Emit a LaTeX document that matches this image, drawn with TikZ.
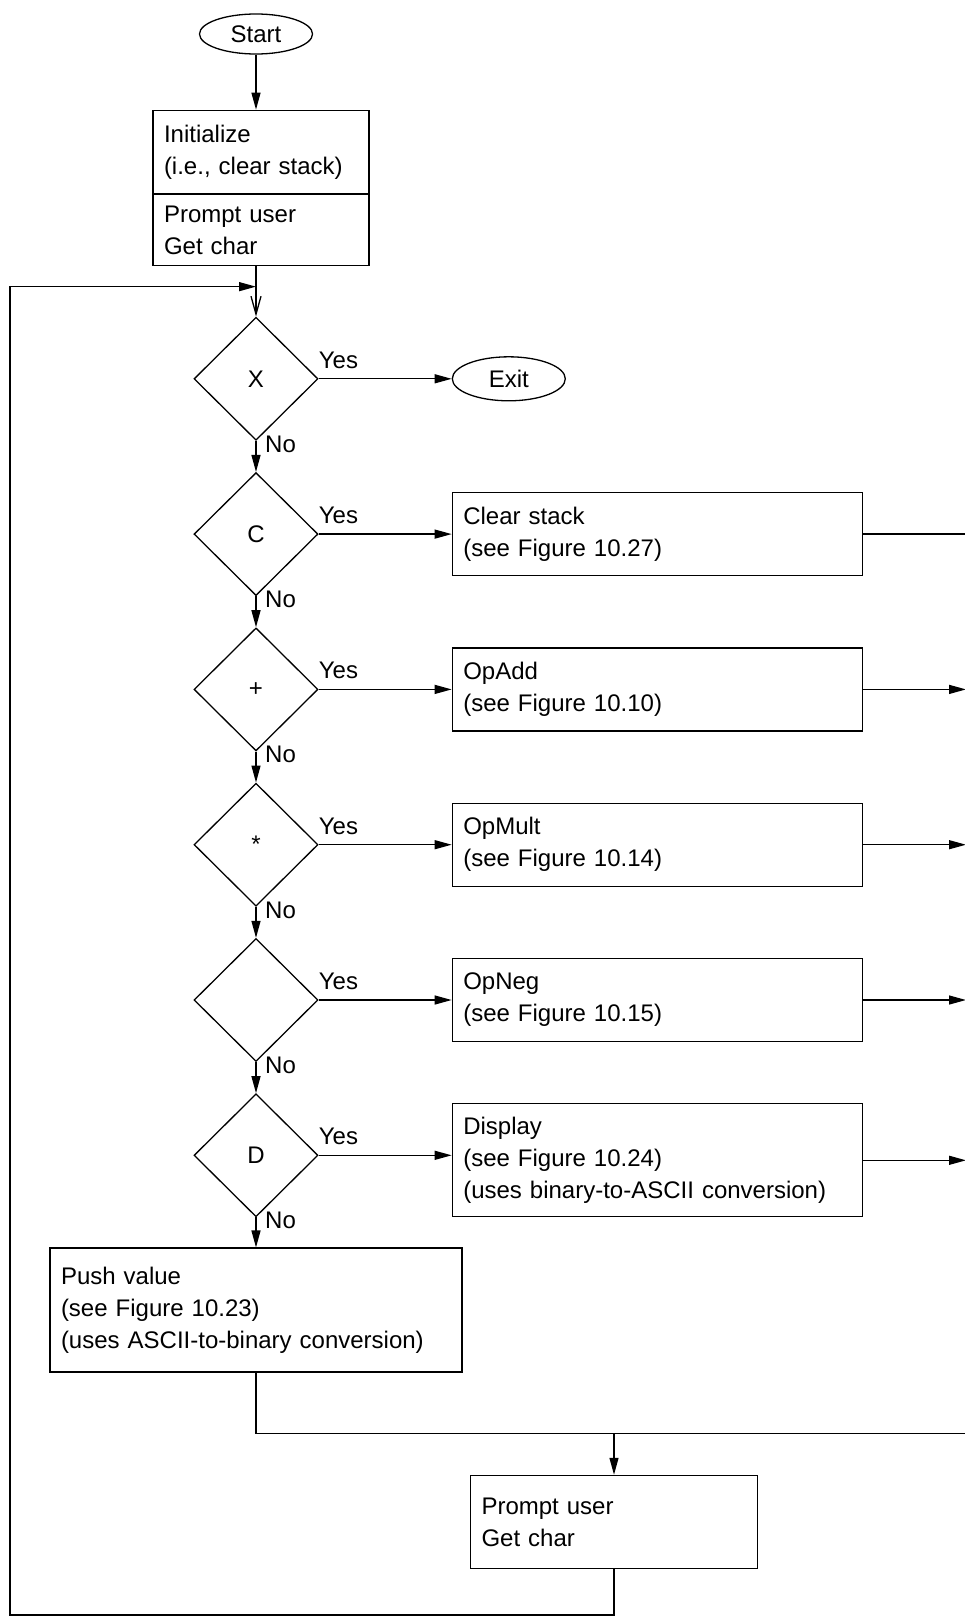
\documentclass[tikz,border=0pt]{standalone}
\usepackage{fontspec}
\setmainfont{Liberation Sans}
\usetikzlibrary{arrows.meta, positioning, shapes.geometric}
\tikzset{boite/.style={rectangle, draw, line width=1.3pt,
  align=left, inner xsep=11pt, inner ysep=0pt}}
\tikzset{test/.style={diamond, draw, line width=1.3pt,
  minimum width=124pt, minimum height=123pt, inner sep=0pt}}
\tikzset{borne/.style={ellipse, draw, line width=1.3pt,
  minimum width=113pt, minimum height=40pt, inner sep=0pt}}
\tikzset{oui/.style={inner sep=0pt}}
\tikzset{non/.style={inner sep=0pt}}
\tikzset{trait/.style={line width=1.3pt}}
\tikzset{fl/.style={trait, -{Triangle[length=17pt, width=9pt]}}}

\begin{document}
\begin{tikzpicture}[node distance=31pt, font=\fontsize{24}{32}\selectfont]
\useasboundingbox (0,0) rectangle (964pt,-1619pt);
\node[borne] (deb) at (256pt,-34pt) {Start};
\node[boite, text width=194pt, minimum height=83pt, below=55pt of deb, xshift=5pt] (init) {Initialize\\(i.e., clear stack)};
\node[boite, text width=194pt, minimum height=71pt, below=0pt of init] (lire) {Prompt user\\Get char};
\node[test, below=262pt of deb] (tx) {X};
\node[test, below=of tx] (tc) {C};
\node[test, below=of tc] (tplus) {+};
\node[test, below=of tplus] (tmul) {*};
\node[test, below=of tmul] (tneg) {};
\node[test, below=of tneg] (td) {D};
\node[borne, minimum height=44pt, right=133pt of tx] (fin) {Exit};
\node[boite, text width=388pt, minimum height=83pt, right=133pt of tc] (vider) {Clear stack\\(see Figure 10.27)};
\node[boite, text width=388pt, minimum height=83pt, right=133pt of tplus] (add) {OpAdd\\(see Figure 10.10)};
\node[boite, text width=388pt, minimum height=83pt, right=133pt of tmul] (mult) {OpMult\\(see Figure 10.14)};
\node[boite, text width=388pt, minimum height=83pt, right=133pt of tneg] (neg) {OpNeg\\(see Figure 10.15)};
\node[boite, text width=388pt, minimum height=113pt, right=133pt of td, yshift=-5pt] (aff) {Display\\(see Figure 10.24)\\(uses binary-to-ASCII conversion)};
\node[boite, text width=390pt, minimum height=124pt, below=30pt of td] (empil) {Push value\\(see Figure 10.23)\\(uses ASCII-to-binary conversion)};
\node[boite, text width=265pt, minimum height=93pt, below=102pt of empil, xshift=358pt] (lire2) {Prompt user\\Get char};
\node[oui, above right=10pt and 0pt of tx.east] (ouix) {Yes};
\node[oui, above right=10pt and 0pt of tc.east] (ouic) {Yes};
\node[oui, above right=10pt and 0pt of tplus.east] (ouiplus) {Yes};
\node[oui, above right=10pt and 0pt of tmul.east] (ouimul) {Yes};
\node[oui, above right=10pt and 0pt of tneg.east] (ouineg) {Yes};
\node[oui, above right=10pt and 0pt of td.east] (ouid) {Yes};
\node[non, right=9pt of tx.south, yshift=-3pt] (nonx) {No};
\node[non, right=9pt of tc.south, yshift=-3pt] (nonc) {No};
\node[non, right=9pt of tplus.south, yshift=-3pt] (nonplus) {No};
\node[non, right=9pt of tmul.south, yshift=-3pt] (nonmul) {No};
\node[non, right=9pt of tneg.south, yshift=-3pt] (nonneg) {No};
\node[non, right=9pt of td.south, yshift=-3pt] (nond) {No};
\coordinate (bus) at (966pt,0);
\coordinate[below=61pt of empil] (joint);
\coordinate[above=30pt of tx] (retour);
\coordinate (bas) at (10pt,-1615pt);
\draw[fl] (deb) -- (deb.south |- init.north);
\draw[trait, -{Straight Barb[length=18pt, width=10pt]}] (lire.south -| tx.north) -- (tx.north);
\draw[fl] (tx) -- (tc); \draw[fl] (tc) -- (tplus); \draw[fl] (tplus) -- (tmul);
\draw[fl] (tmul) -- (tneg); \draw[fl] (tneg) -- (td); \draw[fl] (td) -- (empil);
\draw[fl] (tx) -- (fin); \draw[fl] (tc) -- (vider); \draw[fl] (tplus) -- (add);
\draw[fl] (tmul) -- (mult); \draw[fl] (tneg) -- (neg); \draw[fl] (td.east) -- (td.east -| aff.west);
\draw[trait] (vider.east) -- (vider.east -| bus);
\draw[fl] (add.east) -- (add.east -| bus); \draw[fl] (mult.east) -- (mult.east -| bus);
\draw[fl] (neg.east) -- (neg.east -| bus); \draw[fl] (aff.east) -- (aff.east -| bus);
\draw[trait] (empil.south) -- (joint) -- (joint -| bus);
\draw[fl] (joint -| lire2.north) -- (lire2.north);
\draw[fl] (lire2.south) |- (bas) |- (retour);
\end{tikzpicture}
\end{document}
